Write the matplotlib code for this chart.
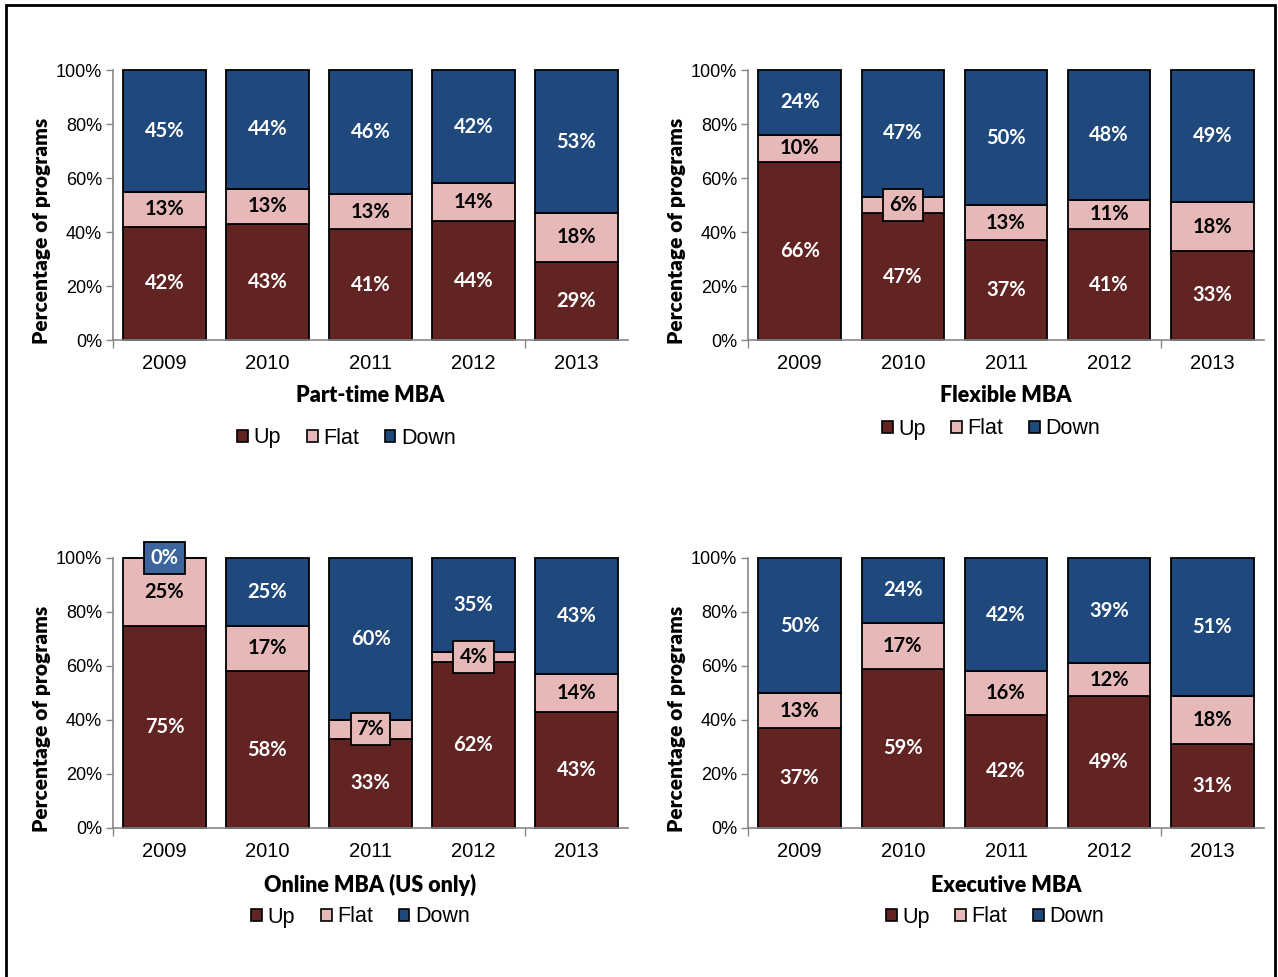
import numpy as np
import matplotlib
matplotlib.use("Agg")
import matplotlib.pyplot as plt
from matplotlib.patches import Patch, Rectangle

# Data
years = ["2009", "2010", "2011", "2012", "2013"]
series = ["Up", "Flat", "Down"]

parttime_up = [42, 43, 41, 44, 29]
parttime_flat = [13, 13, 13, 14, 18]
parttime_down = [45, 44, 46, 42, 53]

flexible_up = [66, 47, 37, 41, 33]
flexible_flat = [10, 6, 13, 11, 18]
flexible_down = [24, 47, 50, 48, 49]

online_up = [75, 58, 33, 62, 43]
online_flat = [25, 17, 7, 4, 14]
online_down = [0, 25, 60, 35, 43]

executive_up = [37, 59, 42, 49, 31]
executive_flat = [13, 17, 16, 12, 18]
executive_down = [50, 24, 42, 39, 51]

titles = ["Part-time MBA", "Flexible MBA", "Online MBA (US only)", "Executive MBA"]

colors = {"Up": "#622423", "Flat": "#E6B9B8", "Down": "#1F497D"}
text_colors = {"Up": "white", "Flat": "black", "Down": "white"}
GEO = "Lato"

W, H = 1278, 977
fig = plt.figure(figsize=(W / 100, H / 100), dpi=100)

# panel layout in pixels: (left, right, top, bottom, title_y, legend_y, legend_dx)
panels = [
    (113, 628, 70, 340, 396, 438, -24),
    (748, 1264, 70, 340, 396, 429, -15),
    (113, 628, 558, 828, 885, 917, -10),
    (748, 1264, 558, 828, 885, 917, -11),
]
data = [
    (parttime_up, parttime_flat, parttime_down),
    (flexible_up, flexible_flat, flexible_down),
    (online_up, online_flat, online_down),
    (executive_up, executive_flat, executive_down),
]
# segments whose labels sit in a box: (panel, series, year index)
boxed = {(1, "Flat", 1), (2, "Flat", 2), (2, "Flat", 3), (2, "Down", 0)}

x = np.arange(len(years))
for p, ((l, r, t, b, ty, ly, ldx), vals) in enumerate(zip(panels, data)):
    ax = fig.add_axes([l / W, 1 - b / H, (r - l) / W, (b - t) / H])
    total = np.sum(vals, axis=0)
    bottom = np.zeros(len(years))
    for name, v in zip(series, vals):
        h = np.array(v) / total
        ax.bar(x, h, 0.8, bottom=bottom, color=colors[name],
               edgecolor="black", linewidth=1.3, clip_on=False, zorder=2)
        for i in range(len(years)):
            cy = bottom[i] + h[i] / 2
            kw = {}
            if (p, name, i) in boxed:
                fc = "#3B659C" if name == "Down" else colors[name]
                kw["bbox"] = dict(boxstyle="square,pad=0.3", fc=fc, ec="black", lw=1.3)
            ax.text(x[i], cy, f"{v[i]}%", ha="center", va="center",
                    color=text_colors[name], fontsize=14.5, fontweight="bold",
                    family=GEO, zorder=5, **kw)
        bottom += h

    ax.set_xlim(-0.5, 4.5)
    ax.set_ylim(0, 1)
    ax.set_yticks(np.linspace(0, 1, 6))
    ax.set_yticklabels([f"{int(v)}%" for v in np.linspace(0, 100, 6)],
                       family="Liberation Sans", fontsize=13)
    ax.set_xticks(x)
    ax.set_xticklabels(years, family="Liberation Sans", fontsize=14.5)
    ax.set_xticks([-0.5, 3.5], minor=True)
    ax.tick_params(axis="x", which="major", length=0, pad=10)
    ax.tick_params(axis="x", which="minor", length=6, color="#888888", width=1)
    ax.tick_params(axis="y", length=5, color="#888888", width=1, pad=3)
    for s in ["top", "right"]:
        ax.spines[s].set_visible(False)
    for s in ["left", "bottom"]:
        ax.spines[s].set_color("#888888")
        ax.spines[s].set_linewidth(1.2)
    ax.set_ylabel("Percentage of programs", family=GEO, fontweight="heavy",
                  fontsize=15)
    ax.yaxis.set_label_coords(-62 / (r - l), 0.405)

    cx = (l + r) / 2
    fig.text(cx / W, 1 - ty / H, titles[p], ha="center", va="center",
             family=GEO, fontweight="heavy", fontsize=15.5)
    handles = [Patch(facecolor=colors[n], edgecolor="black", lw=1.2, label=n) for n in series]
    fig.legend(handles=handles, loc="center", bbox_to_anchor=((cx + ldx) / W, 1 - ly / H),
               ncol=3, frameon=False, handlelength=0.5, handleheight=0.5,
               handletextpad=0.25, columnspacing=1.2,
               prop={"family": "Liberation Sans", "size": 15.5})

# outer border
fig.add_artist(Rectangle((6 / W, -0.05), 1269 / W, 1.05 - 5 / H,
                         transform=fig.transFigure, fill=False,
                         edgecolor="black", linewidth=2))

plt.savefig("out.png", dpi=100)
